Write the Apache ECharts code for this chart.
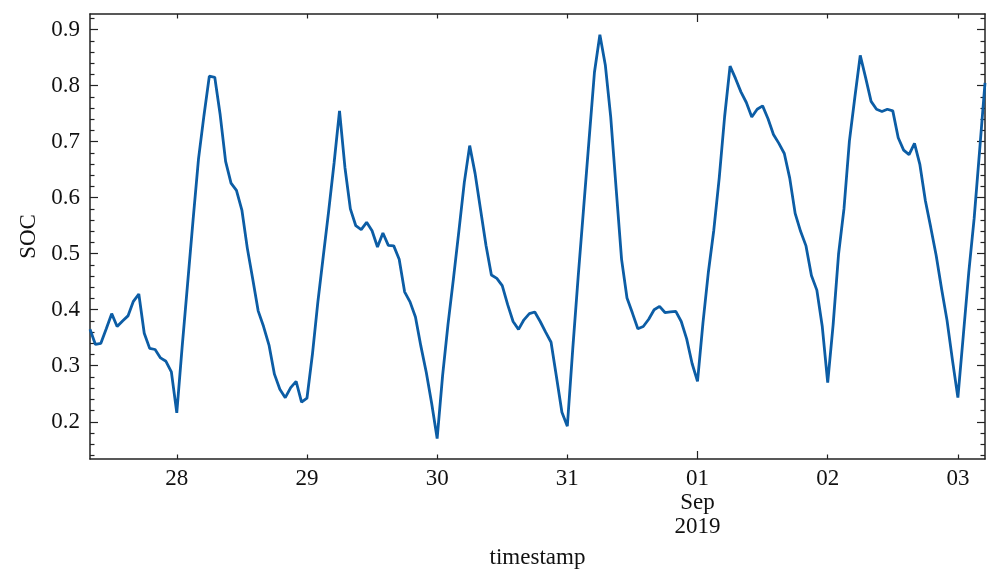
<!DOCTYPE html>
<html>
<head>
<meta charset="utf-8">
<script src="https://cdn.jsdelivr.net/npm/echarts@6/dist/echarts.min.js"></script>
<style>
  html, body { margin: 0; background: #fff; }
  #soc-chart { width: 987px; height: 570px; }
</style>
</head>
<body>
<div id="soc-chart"></div>
<script>
// hourly SOC readings, first one at startTime
const startTime = "2019-08-27 08:00";
const endTime = "2019-09-03 05:00";
const soc = [
  0.365, 0.338, 0.340, 0.366, 0.393, 0.370, 0.380, 0.389, 0.415, 0.428, 0.358, 0.331,
  0.329, 0.314, 0.308, 0.289,
  // 28
  0.216, 0.335, 0.447, 0.560, 0.669, 0.746, 0.817, 0.815, 0.748, 0.665, 0.626, 0.613,
  0.578, 0.510, 0.455, 0.398, 0.370, 0.337, 0.285, 0.258, 0.243, 0.261, 0.272, 0.235,
  // 29
  0.242, 0.320, 0.413, 0.495, 0.576, 0.662, 0.755, 0.654, 0.580, 0.550, 0.543, 0.556,
  0.541, 0.512, 0.537, 0.515, 0.514, 0.490, 0.432, 0.414, 0.387, 0.335, 0.288, 0.232,
  // 30
  0.170, 0.282, 0.374, 0.455, 0.540, 0.627, 0.693, 0.643, 0.579, 0.515, 0.462, 0.456,
  0.443, 0.409, 0.379, 0.365, 0.382, 0.393, 0.396, 0.379, 0.360, 0.342, 0.280, 0.217,
  // 31
  0.192, 0.330, 0.459, 0.581, 0.703, 0.824, 0.891, 0.837, 0.744, 0.616, 0.490, 0.421,
  0.394, 0.366, 0.370, 0.383, 0.400, 0.406, 0.395, 0.396, 0.397, 0.379, 0.348, 0.304,
  // 01 Sep
  0.272, 0.376, 0.467, 0.542, 0.635, 0.745, 0.835, 0.813, 0.789, 0.770, 0.744, 0.758,
  0.764, 0.741, 0.713, 0.697, 0.679, 0.635, 0.572, 0.540, 0.514, 0.461, 0.435, 0.370,
  // 02
  0.270, 0.373, 0.499, 0.580, 0.701, 0.779, 0.854, 0.814, 0.772, 0.758, 0.754, 0.758,
  0.755, 0.707, 0.685, 0.677, 0.697, 0.659, 0.595, 0.547, 0.497, 0.437, 0.381, 0.310,
  // 03
  0.243, 0.354, 0.466, 0.563, 0.683, 0.805
];

const dayTicks = [
  "2019-08-28 00:00", "2019-08-29 00:00", "2019-08-30 00:00", "2019-08-31 00:00",
  "2019-09-01 00:00", "2019-09-02 00:00", "2019-09-03 00:00"
];
const dayLabels = ["28", "29", "30", "31", "01\nSep\n2019", "02", "03"];
const monthTicks = ["2019-09-01 00:00"];

const yMin = 0.1335;
const yMax = 0.928;
const yMajor = [0.2, 0.3, 0.4, 0.5, 0.6, 0.7, 0.8, 0.9];
const yMinor = [
  0.14, 0.16, 0.18, 0.22, 0.24, 0.26, 0.28, 0.32, 0.34, 0.36, 0.38,
  0.42, 0.44, 0.46, 0.48, 0.52, 0.54, 0.56, 0.58, 0.62, 0.64, 0.66, 0.68,
  0.72, 0.74, 0.76, 0.78, 0.82, 0.84, 0.86, 0.88, 0.92
];

function toTime(s) {
  return new Date(s.replace(" ", "T")).getTime();
}

const HOUR = 3600 * 1000;
const t0 = toTime(startTime);
const seriesData = soc.map((v, i) => [t0 + i * HOUR, v]);

const dayTimes = dayTicks.map(toTime);
const monthTimes = monthTicks.map(toTime);
const minorDayTimes = dayTimes.filter((t) => monthTimes.indexOf(t) < 0);

const font = "Liberation Serif";
const ink = "#111";
const fs = 23;
const spine = { show: true, lineStyle: { color: "#222", width: 1.5 } };

// x is a plain value axis holding epoch ms, ticks placed on the day boundaries
function xAx(position, ticks, len, extra) {
  return Object.assign({
    type: "value",
    position: position,
    min: toTime(startTime),
    max: toTime(endTime),
    scale: true,
    axisLine: { show: false },
    axisTick: { show: true, inside: true, length: len, customValues: ticks,
      lineStyle: { color: "#222", width: 1.2 } },
    axisLabel: { show: false },
    splitLine: { show: false },
  }, extra || {});
}

function yAx(position, ticks, len, extra) {
  return Object.assign({
    type: "value",
    position: position,
    min: yMin,
    max: yMax,
    axisLine: { show: false },
    axisTick: { show: true, inside: true, length: len, customValues: ticks,
      lineStyle: { color: "#222", width: 1.2 } },
    axisLabel: { show: false },
    splitLine: { show: false },
  }, extra || {});
}

const chart = echarts.init(document.getElementById("soc-chart"));
chart.setOption({
  animation: false,
  backgroundColor: "#fff",
  grid: { left: 90, right: 2, top: 14, bottom: 111, containLabel: false, outerBoundsMode: "none" },
  xAxis: [
    xAx("bottom", minorDayTimes, 4.5, {
      axisLine: spine,
      name: "timestamp",
      nameLocation: "middle",
      nameGap: 87,
      nameTextStyle: { fontFamily: font, fontSize: fs, color: ink },
      axisLabel: {
        show: true,
        customValues: dayTimes,
        margin: 8,
        fontFamily: font,
        fontSize: fs,
        lineHeight: 24,
        color: ink,
        formatter: function (val) {
          const i = dayTimes.indexOf(val);
          return i >= 0 ? dayLabels[i] : "";
        },
      },
    }),
    xAx("bottom", monthTimes, 8),
    xAx("top", minorDayTimes, 4.5, { axisLine: spine }),
    xAx("top", monthTimes, 8),
  ],
  yAxis: [
    yAx("left", yMajor, 8, {
      axisLine: spine,
      name: "SOC",
      nameLocation: "middle",
      nameRotate: 90,
      nameGap: 50,
      nameTextStyle: { fontFamily: font, fontSize: fs, color: ink },
      axisLabel: {
        show: true,
        customValues: yMajor,
        margin: 10,
        fontFamily: font,
        fontSize: fs,
        color: ink,
        formatter: (v) => v.toFixed(1),
      },
    }),
    yAx("left", yMinor, 4.5),
    yAx("right", yMajor, 8, { axisLine: spine }),
    yAx("right", yMinor, 4.5),
  ],
  series: [
    {
      name: "SOC",
      type: "line",
      xAxisIndex: 0,
      yAxisIndex: 0,
      data: seriesData,
      showSymbol: false,
      lineStyle: { color: "#0C5DA5", width: 2.8 },
    },
  ],
});
</script>
</body>
</html>
